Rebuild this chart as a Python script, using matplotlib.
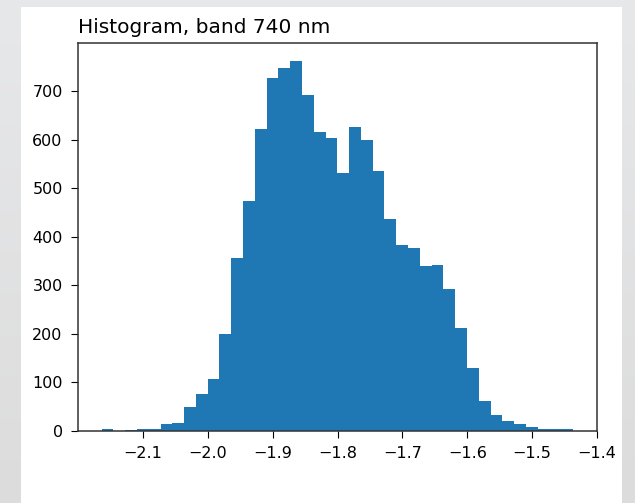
import numpy as np
import matplotlib
matplotlib.use("Agg")
import matplotlib.pyplot as plt
from matplotlib.patches import Rectangle

# Histogram of band 740 nm: 40 equal-width bins between these edges
bin_lo = -2.164
bin_hi = -1.437
counts = [4, 0, 3, 4, 5, 15, 16, 50, 77, 107,
          199, 357, 474, 622, 727, 747, 761, 691, 615, 603,
          532, 626, 600, 535, 437, 383, 377, 339, 342, 293,
          213, 130, 61, 32, 20, 15, 9, 4, 4, 4]
title = "Histogram, band 740 nm"

edges = np.linspace(bin_lo, bin_hi, len(counts) + 1)
centers = 0.5 * (edges[:-1] + edges[1:])

W, H = 635, 503
fig = plt.figure(figsize=(W / 100, H / 100), dpi=100)

# grey page behind a white output panel
bg = fig.add_axes([0, 0, 1, 1], zorder=-10)
grad = np.linspace(0, 1, 256)[:, None]
bg.imshow(grad, aspect="auto", cmap=matplotlib.colors.LinearSegmentedColormap.from_list(
    "bgc", ["#e7e8ea", "#dcdcdc"]), extent=[0, 1, 0, 1], origin="upper")
bg.add_patch(Rectangle((21 / W, 0), (622 - 21) / W, (H - 7) / H,
                       facecolor="white", edgecolor="none"))
bg.set_xlim(0, 1)
bg.set_ylim(0, 1)
bg.axis("off")

ax = fig.add_axes([78 / W, (H - 431) / H, (597 - 78) / W, (431 - 43) / H])
ax.hist(centers, bins=edges, weights=counts, color="#1f77b4")
ax.set_title(title, loc="left", fontsize=14.5, pad=7)
ax.set_xticks([-2.1, -2.0, -1.9, -1.8, -1.7, -1.6, -1.5, -1.4])
ax.tick_params(labelsize=11.5, pad=6, length=5)
for s in ax.spines.values():
    s.set_color("#333333")
    s.set_linewidth(1.1)

fig.savefig("out.png", dpi=100)
